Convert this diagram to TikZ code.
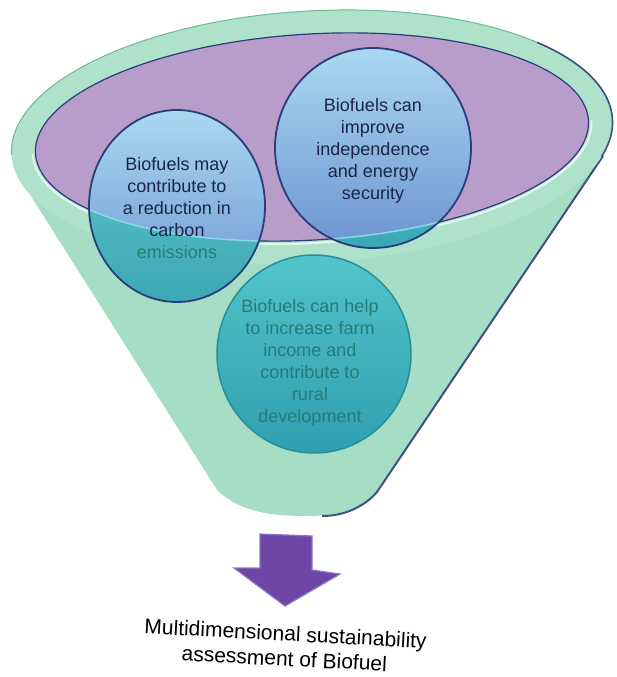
\documentclass[tikz,border=0pt]{standalone}
\usepackage{fontspec}
\setmainfont{Liberation Sans}
\usepackage{tikz}
\usetikzlibrary{calc}

\definecolor{mint}{HTML}{A6DDC5}
\definecolor{rimmint}{HTML}{AEE2CB}
\definecolor{rimedge}{HTML}{6FB89A}
\definecolor{lilac}{HTML}{B89DCB}
\definecolor{navyline}{HTML}{2A3C7A}
\definecolor{bluetop}{HTML}{AAD8F2}
\definecolor{bluebot}{HTML}{6C94D0}
\definecolor{tealtop}{HTML}{62CACC}
\definecolor{tealbot}{HTML}{3CA8B6}
\definecolor{farmtop}{HTML}{52C4CA}
\definecolor{farmbot}{HTML}{2F9FB0}
\definecolor{farmedge}{HTML}{2A8E9A}
\definecolor{waterline}{HTML}{8CD6EC}
\definecolor{inktext}{HTML}{1C2448}
\definecolor{tealtext}{HTML}{2A7F6C}
\definecolor{farmtext}{HTML}{257C74}
\definecolor{arrowfill}{HTML}{6E46A6}
\definecolor{arrowedge}{HTML}{9272C6}
\definecolor{shadowedge}{HTML}{3F4F86}

\begin{document}
\begin{tikzpicture}[x=1pt,y=-1pt]
	\tikzstyle{circtext}=[align=center,font=\fontsize{18}{22}\selectfont,text=inktext]
	\tikzstyle{bubble}=[line width=1.8pt,draw=navyline]
	\tikzstyle{tilt}=[rotate around={3.4:(mouth)}]
	\useasboundingbox (0,0) rectangle (616,677);
	\coordinate (mouth) at (312,137);
	\coordinate (c1) at (177,206);
	\coordinate (c2) at (373,148);
	\coordinate (c3) at (314,354);

	\fill[mint] (22,182) -- (217,490) .. controls (240,512) and (270,516) .. (307,516)
		.. controls (345,516) and (365,506) .. (377,492) -- (603,156) -- cycle;
	\draw[shadowedge,line width=2pt] (603,156) -- (377,492) .. controls (365,506) and (345,516) .. (322,516);
	\fill[rimmint,tilt] (mouth) ellipse (301 and 126);
	\draw[rimedge,line width=1pt,tilt] ($(mouth)+(-301,0)$) arc[start angle=180,end angle=360,x radius=301,y radius=126];
	\draw[shadowedge,line width=1.6pt,tilt] ($(mouth)+(-40:301 and 126)$) arc[start angle=-40,end angle=17,x radius=301,y radius=126];
	\draw[white,opacity=.7,line width=2pt,tilt] ($(mouth)+(-280,0)$) arc[start angle=180,end angle=0,x radius=280,y radius=106];
	\filldraw[fill=lilac,draw=navyline,line width=1.2pt,tilt] (mouth) ellipse (277 and 103);

	\shade[top color=tealtop,bottom color=tealbot] (c1) ellipse (88 and 96);
	\shade[top color=tealtop,bottom color=tealbot] (c2) ellipse (98 and 100);
	\begin{scope}
		\clip[tilt] (mouth) ellipse (277 and 103);
		\shade[top color=bluetop,bottom color=bluebot] (c1) ellipse (88 and 96);
		\shade[top color=bluetop,bottom color=bluebot] (c2) ellipse (98 and 100);
	\end{scope}
	\begin{scope}
		\clip (c1) ellipse (88 and 96) (c2) ellipse (98 and 100);
		\draw[waterline,line width=1.5pt,tilt] (mouth) ellipse (277 and 103);
	\end{scope}
	\draw[bubble] (c1) ellipse (88 and 96);
	\draw[bubble] (c2) ellipse (98 and 100);
	\shade[top color=farmtop,bottom color=farmbot] (c3) ellipse (97 and 99);
	\draw[farmedge,line width=1.5pt] (c3) ellipse (97 and 99);

	\node[circtext] (carbon) at (177,208) {Biofuels may\\contribute to\\a reduction in\\carbon\\\textcolor{tealtext}{emissions}};
	\node[circtext] (security) at (373,151) {Biofuels can\\improve\\independence\\and energy\\security};
	\node[circtext,text=farmtext] (farm) at (310,363) {Biofuels can help\\to increase farm\\income and\\contribute to\\rural\\development};

	\filldraw[fill=arrowfill,draw=arrowedge,line width=1.2pt] (260,534) -- (312,536) -- (312,570) -- (340,574)
		-- (285,606) -- (234,568) -- (260,568) -- cycle;
	\node[font=\fontsize{21}{25}\selectfont,align=center,rotate=-3] (result) at (285,646) {Multidimensional sustainability\\assessment of Biofuel};
\end{tikzpicture}
\end{document}
